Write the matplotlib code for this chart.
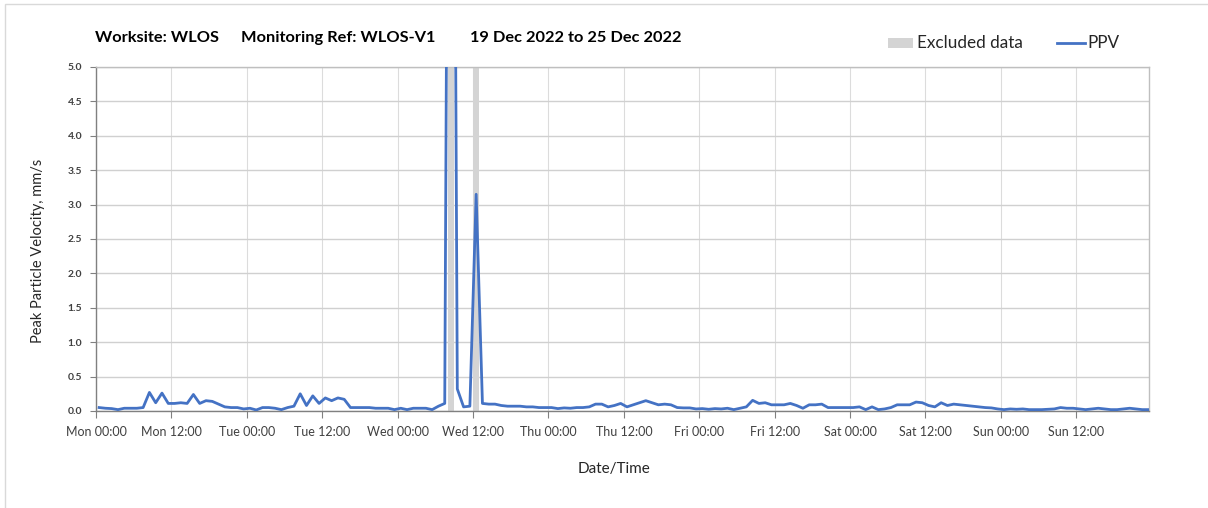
import matplotlib
matplotlib.use("Agg")
import matplotlib.pyplot as plt
from matplotlib.patches import Rectangle
from matplotlib.lines import Line2D
import numpy as np

plt.rcParams['font.family'] = ['Lato', 'DejaVu Sans']

# Hourly PPV readings (mm/s), one per hour from Mon 00:30 to Sun 23:30
ppv = [
    0.05, 0.04, 0.035, 0.02, 0.04, 0.04, 0.04, 0.05, 0.27, 0.12,
    0.26, 0.11, 0.11, 0.12, 0.11, 0.24, 0.11, 0.15, 0.14, 0.10,
    0.06, 0.05, 0.05, 0.03, 0.04, 0.015, 0.05, 0.05, 0.04, 0.02,
    0.05, 0.07, 0.25, 0.08, 0.22, 0.11, 0.19, 0.15, 0.19, 0.17,
    0.05, 0.05, 0.05, 0.05, 0.04, 0.04, 0.04, 0.02, 0.04, 0.02,
    0.04, 0.04, 0.04, 0.02, 0.07, 0.11, 18.9, 0.32, 0.06, 0.07,
    3.15, 0.11, 0.10, 0.10, 0.08, 0.07, 0.07, 0.07, 0.06, 0.06,
    0.05, 0.05, 0.05, 0.035, 0.045, 0.04, 0.05, 0.05, 0.06, 0.10,
    0.10, 0.06, 0.08, 0.11, 0.06, 0.09, 0.12, 0.15, 0.12, 0.09,
    0.10, 0.09, 0.05, 0.045, 0.045, 0.03, 0.035, 0.025, 0.035, 0.03,
    0.04, 0.02, 0.04, 0.06, 0.155, 0.11, 0.12, 0.09, 0.09, 0.09,
    0.11, 0.08, 0.04, 0.09, 0.09, 0.10, 0.05, 0.05, 0.05, 0.05,
    0.05, 0.06, 0.02, 0.06, 0.02, 0.03, 0.05, 0.09, 0.09, 0.09,
    0.13, 0.12, 0.08, 0.06, 0.12, 0.08, 0.10, 0.09, 0.08, 0.07,
    0.06, 0.05, 0.045, 0.03, 0.02, 0.03, 0.025, 0.03, 0.02, 0.02,
    0.02, 0.025, 0.03, 0.05, 0.04, 0.04, 0.03, 0.02, 0.03, 0.04,
    0.03, 0.02, 0.02, 0.03, 0.04, 0.03, 0.02, 0.02,
]
hours = np.arange(len(ppv)) + 0.5

# Excluded data periods (hours from Mon 00:00)
excl_start = [56.0, 60.0]
excl_end = [57.0, 61.0]

tick_hours = list(range(0, 168, 12))
tick_labels = ["Mon 00:00", "Mon 12:00", "Tue 00:00", "Tue 12:00",
               "Wed 00:00", "Wed 12:00", "Thu 00:00", "Thu 12:00",
               "Fri 00:00", "Fri 12:00", "Sat 00:00", "Sat 12:00",
               "Sun 00:00", "Sun 12:00"]
y_ticks = [0.0, 0.5, 1.0, 1.5, 2.0, 2.5, 3.0, 3.5, 4.0, 4.5, 5.0]

W, H = 1208, 508
fig = plt.figure(figsize=(W / 100, H / 100), dpi=100)
fig.patch.set_facecolor("white")

# thin frame around the chart area
fig.patches.append(Rectangle((5 / W, -0.01), 1.2, 1 - 4 / H + 0.01,
                             transform=fig.transFigure, fill=False,
                             edgecolor="#d9d9d9", linewidth=1.0))

ax_w = 1148.5 - 96
ax_h = 411 - 67
ax = fig.add_axes([96 / W, 1 - 411 / H, ax_w / W, ax_h / H])

for s, e in zip(excl_start, excl_end):
    ax.axvspan(s, e, color="#d4d4d4", linewidth=0, zorder=1)

ax.plot(hours, ppv, color="#4472C4", linewidth=2.0, zorder=3,
        solid_joinstyle="round")

ax.set_xlim(0, 167.5)
ax.set_ylim(0, 5.0)
ax.set_xticks(tick_hours)
ax.set_xticklabels(tick_labels, fontsize=9, color="#404040")
ax.set_yticks(y_ticks)
ax.set_yticklabels([f"{v:.1f}" for v in y_ticks], fontsize=7.5,
                   color="#404040", fontweight="bold")

ax.grid(True, axis="y", color="#d0d0d0", linewidth=1.0, zorder=0)
ax.grid(True, axis="x", color="#dcdcdc", linewidth=0.8, zorder=0)
ax.set_axisbelow(True)

ax.tick_params(axis="x", direction="out", length=5, width=0.8,
               color="#808080", pad=6)
ax.tick_params(axis="y", direction="out", length=4, width=0.8,
               color="#808080", pad=6)
for side in ["left", "bottom"]:
    ax.spines[side].set_color("#808080")
    ax.spines[side].set_linewidth(1.0)
for side in ["top", "right"]:
    ax.spines[side].set_color("#bfbfbf")
    ax.spines[side].set_linewidth(1.0)

ax.set_ylabel("Peak Particle Velocity, mm/s", fontsize=10.5, color="#262626")
ax.yaxis.set_label_coords(-51 / ax_w, (411 - 251) / ax_h)
ax.set_xlabel("Date/Time", fontsize=11, color="#262626")
ax.xaxis.set_label_coords((614 - 96) / ax_w, -(462 - 411) / ax_h)

# title parts
title_y = 1 - 38 / H
title_fs = 11.8
fig.text(95 / W, title_y, "Worksite: WLOS", fontsize=title_fs,
         fontweight="bold", va="center", ha="left", color="black")
fig.text(241 / W, title_y, "Monitoring Ref: WLOS-V1", fontsize=title_fs,
         fontweight="bold", va="center", ha="left", color="black")
fig.text(470 / W, title_y, "19 Dec 2022 to 25 Dec 2022", fontsize=title_fs,
         fontweight="bold", va="center", ha="left", color="black")

# legend
leg_y = 1 - 43 / H
fig.patches.append(Rectangle((888 / W, 1 - 48 / H), 25 / W, 10 / H,
                             transform=fig.transFigure, facecolor="#d4d4d4",
                             edgecolor="none"))
fig.text(917 / W, leg_y, "Excluded data", fontsize=12.3, va="center",
         ha="left", color="#262626")
fig.lines.append(Line2D([1057 / W, 1085 / W], [leg_y, leg_y],
                        transform=fig.transFigure, color="#4472C4",
                        linewidth=2.0))
fig.text(1087 / W, leg_y, "PPV", fontsize=12.3, va="center", ha="left",
         color="#262626")

fig.savefig("out.png", dpi=100)
